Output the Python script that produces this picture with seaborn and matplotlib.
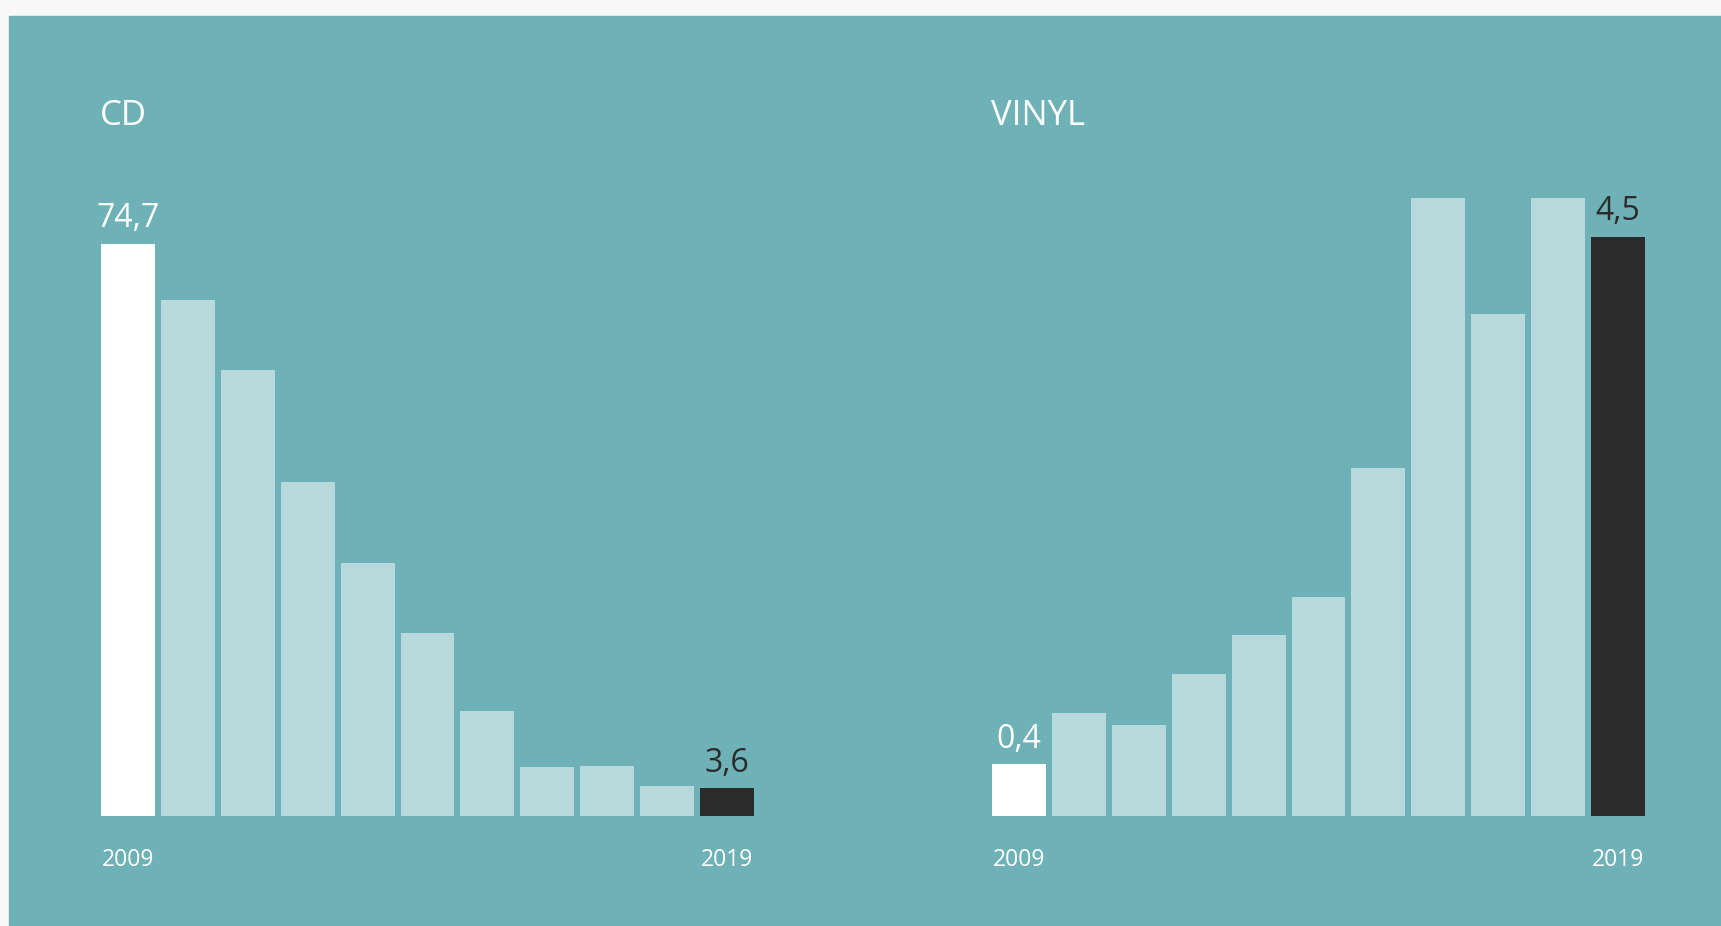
import matplotlib
matplotlib.use("Agg")
import matplotlib.pyplot as plt
import seaborn as sns
import pandas as pd
from matplotlib.patches import Rectangle

# data
years = list(range(2009, 2020))
cd_sales = [74.7, 67.3, 58.2, 43.6, 33.0, 23.9, 13.7, 6.4, 6.5, 3.9, 3.6]
vinyl_sales = [0.4, 0.8, 0.7, 1.1, 1.4, 1.7, 2.7, 4.8, 3.9, 4.8, 4.5]
titles = ["CD", "VINYL"]

BG = "#6eb1b7"
LIGHT = "#b7d9db"
DARK = "#2b2b2b"
W, H = 1721, 926

sns.set_theme(style="white")
plt.rcParams["font.family"] = ["Open Sans", "DejaVu Sans"]

fig = plt.figure(figsize=(W / 100, H / 100), dpi=100)
fig.patch.set_facecolor("#f8f8f8")
fig.patches.append(Rectangle((9 / W, 0), 1 - 9 / W, (H - 16) / H,
                             transform=fig.transFigure, color=BG, zorder=-5))

colors = ["white"] + [LIGHT] * 9 + [DARK]
label_colors = ["white", DARK]

# axes placed in pixel coords: left, bar span width, baseline and top
base_y, top_y = 815.5, 198
panels = [(101, cd_sales, 74.7 * (base_y - top_y) / (base_y - 243.7)),
          (992, vinyl_sales, 4.8)]

for i, (left, vals, ymax) in enumerate(panels):
    ax = fig.add_axes([left / W, (H - base_y) / H, 653 / W, (base_y - top_y) / H])
    df = pd.DataFrame({"year": [str(y) for y in years], "value": vals})
    sns.barplot(data=df, x="year", y="value", hue="year", palette=colors,
                width=0.9, saturation=1, legend=False, linewidth=0, ax=ax)
    ax.set_xlim(-0.45, len(years) - 0.55)
    ax.set_ylim(0, ymax)
    ax.set_facecolor("none")
    ax.axis("off")

    for j, c in zip([0, len(vals) - 1], label_colors):
        txt = f"{vals[j]:.1f}".replace(".", ",")
        ax.annotate(txt, (j, vals[j]), xytext=(0, 6), textcoords="offset points",
                    ha="center", va="bottom", fontsize=23, color=c,
                    annotation_clip=False)
        ax.annotate(str(years[j]), (j, 0), xytext=(0, -32), textcoords="offset points",
                    ha="center", va="center", fontsize=16.5, color="white",
                    annotation_clip=False)

    fig.text((left - 1) / W, 1 - 116 / H, titles[i], ha="left", va="center",
             fontsize=25, color="white")

fig.savefig("out.png", dpi=100, facecolor=fig.get_facecolor())
